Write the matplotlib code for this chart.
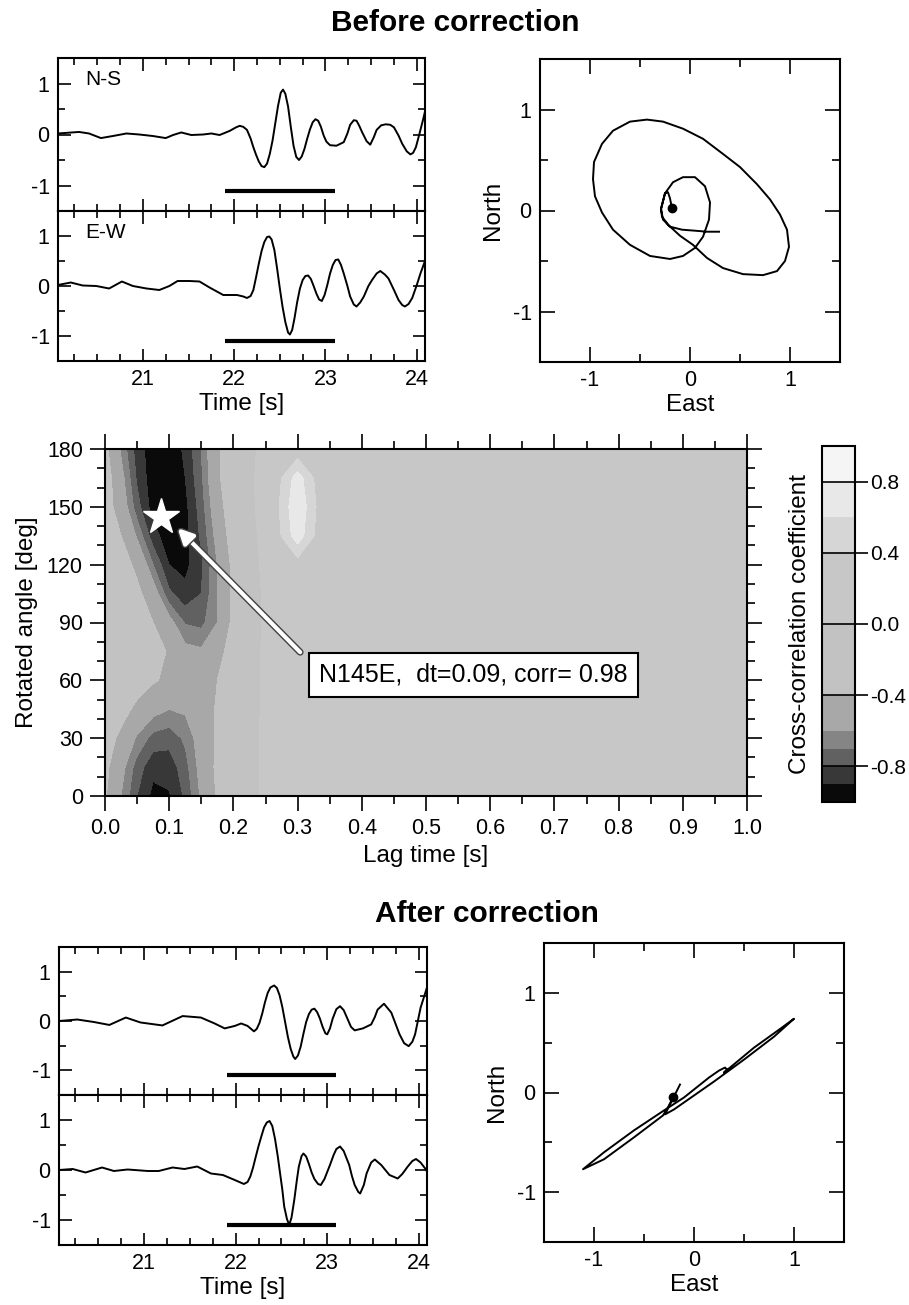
import numpy as np
import matplotlib
matplotlib.use('Agg')
import matplotlib.pyplot as plt
from matplotlib.colors import ListedColormap, BoundaryNorm
from matplotlib.ticker import MultipleLocator, FormatStrFormatter
import matplotlib.patheffects as pe

plt.rcParams['font.family'] = ['Liberation Sans', 'DejaVu Sans']
plt.rcParams['axes.unicode_minus'] = False

# ---------------- data ----------------
# Before correction: (time [s], amplitude)
ns_before = [(20.07, 0.02), (20.30, 0.05), (20.41, 0.02), (20.54, -0.07), (20.67, -0.03),
             (20.82, 0.02), (20.96, 0.0), (21.11, -0.03), (21.25, -0.07), (21.33, -0.01),
             (21.42, 0.04), (21.53, -0.01), (21.66, 0.0), (21.75, 0.02), (21.84, -0.01),
             (21.95, 0.07), (22.02, 0.14), (22.06, 0.17), (22.10, 0.15), (22.14, 0.09),
             (22.18, -0.08), (22.21, -0.25), (22.24, -0.40), (22.27, -0.53), (22.30, -0.62),
             (22.33, -0.64), (22.36, -0.57), (22.39, -0.38), (22.42, -0.12), (22.45, 0.22),
             (22.48, 0.56), (22.51, 0.82), (22.535, 0.88), (22.56, 0.80), (22.59, 0.55),
             (22.62, 0.15), (22.65, -0.22), (22.68, -0.44), (22.71, -0.50), (22.74, -0.43),
             (22.77, -0.28), (22.80, -0.08), (22.83, 0.10), (22.86, 0.24), (22.89, 0.30),
             (22.92, 0.27), (22.95, 0.15), (22.98, -0.02), (23.01, -0.14), (23.05, -0.21),
             (23.12, -0.22), (23.20, -0.15), (23.24, 0.02), (23.27, 0.19), (23.31, 0.28),
             (23.34, 0.27), (23.37, 0.17), (23.40, 0.05), (23.45, -0.13), (23.49, -0.20),
             (23.53, -0.05), (23.56, 0.09), (23.61, 0.18), (23.66, 0.20), (23.71, 0.19),
             (23.75, 0.14), (23.80, -0.02), (23.84, -0.18), (23.89, -0.33), (23.93, -0.39),
             (23.96, -0.36), (23.99, -0.25), (24.02, -0.05), (24.04, 0.09), (24.07, 0.30),
             (24.09, 0.45)]
ew_before = [(20.07, 0.02), (20.21, 0.07), (20.34, 0.01), (20.49, 0.0), (20.63, -0.05),
             (20.77, 0.09), (20.89, 0.0), (21.04, -0.05), (21.18, -0.08), (21.29, 0.0),
             (21.38, 0.10), (21.51, 0.10), (21.62, 0.09), (21.73, -0.03), (21.88, -0.18),
             (22.03, -0.18), (22.10, -0.21), (22.14, -0.24), (22.18, -0.20), (22.21, -0.08),
             (22.24, 0.18), (22.27, 0.45), (22.30, 0.70), (22.33, 0.88), (22.36, 0.98),
             (22.385, 0.99), (22.41, 0.93), (22.44, 0.72), (22.47, 0.35), (22.50, -0.05),
             (22.53, -0.42), (22.56, -0.72), (22.59, -0.93), (22.61, -0.97), (22.635, -0.88),
             (22.66, -0.65), (22.69, -0.32), (22.72, -0.05), (22.75, 0.12), (22.78, 0.20),
             (22.81, 0.21), (22.84, 0.14), (22.87, 0.0), (22.90, -0.15), (22.93, -0.27),
             (22.96, -0.30), (22.99, -0.18), (23.02, 0.02), (23.05, 0.25), (23.08, 0.42),
             (23.11, 0.52), (23.14, 0.53), (23.17, 0.42), (23.20, 0.25), (23.24, 0.0),
             (23.27, -0.21), (23.31, -0.37), (23.34, -0.41), (23.38, -0.33), (23.42, -0.21),
             (23.47, 0.0), (23.51, 0.12), (23.56, 0.25), (23.60, 0.30), (23.65, 0.23),
             (23.69, 0.15), (23.75, -0.08), (23.80, -0.28), (23.84, -0.38), (23.87, -0.41),
             (23.91, -0.36), (23.95, -0.24), (24.00, 0.02), (24.04, 0.25), (24.09, 0.50)]

# After correction
ns_after = [(20.07, 0.0), (20.27, 0.03), (20.45, -0.02), (20.62, -0.08), (20.80, 0.07),
            (20.96, -0.03), (21.20, -0.09), (21.42, 0.10), (21.62, 0.07), (21.77, -0.05),
            (21.88, -0.15), (21.99, -0.10), (22.06, -0.05), (22.13, -0.10), (22.20, -0.21),
            (22.23, -0.16), (22.26, -0.04), (22.29, 0.15), (22.32, 0.38), (22.35, 0.57),
            (22.38, 0.68), (22.42, 0.72), (22.45, 0.67), (22.48, 0.52), (22.51, 0.28),
            (22.54, -0.02), (22.57, -0.32), (22.60, -0.56), (22.63, -0.72), (22.65, -0.77),
            (22.68, -0.70), (22.71, -0.52), (22.74, -0.26), (22.77, -0.02), (22.80, 0.14),
            (22.83, 0.23), (22.86, 0.25), (22.89, 0.18), (22.92, 0.05), (22.95, -0.12),
            (22.98, -0.25), (23.00, -0.27), (23.03, -0.15), (23.06, 0.05), (23.10, 0.24),
            (23.14, 0.30), (23.18, 0.22), (23.22, 0.05), (23.26, -0.12), (23.30, -0.19),
            (23.39, -0.15), (23.48, -0.07), (23.52, 0.08), (23.55, 0.23), (23.62, 0.35),
            (23.70, 0.17), (23.79, -0.27), (23.84, -0.45), (23.89, -0.51), (23.93, -0.42),
            (23.96, -0.27), (24.02, 0.27), (24.09, 0.68)]
ew_after = [(20.07, 0.0), (20.22, 0.02), (20.36, -0.05), (20.54, 0.05), (20.67, -0.02),
            (20.82, 0.01), (21.04, -0.02), (21.16, -0.02), (21.31, 0.05), (21.44, 0.02),
            (21.58, 0.07), (21.73, -0.07), (21.86, -0.10), (21.99, -0.20), (22.09, -0.28),
            (22.13, -0.24), (22.16, -0.13), (22.19, 0.05), (22.22, 0.27), (22.25, 0.48),
            (22.28, 0.67), (22.31, 0.85), (22.34, 0.95), (22.37, 0.98), (22.40, 0.88),
            (22.43, 0.62), (22.46, 0.27), (22.48, 0.0), (22.51, -0.40), (22.53, -0.73),
            (22.56, -0.98), (22.585, -1.10), (22.61, -0.95), (22.64, -0.60), (22.67, -0.18),
            (22.69, 0.07), (22.72, 0.28), (22.74, 0.33), (22.77, 0.27), (22.80, 0.12),
            (22.83, -0.05), (22.86, -0.18), (22.90, -0.28), (22.93, -0.30), (22.97, -0.18),
            (23.03, 0.10), (23.07, 0.30), (23.10, 0.42), (23.14, 0.47), (23.18, 0.38),
            (23.24, 0.10), (23.27, -0.12), (23.30, -0.30), (23.34, -0.44), (23.36, -0.47),
            (23.40, -0.30), (23.43, -0.07), (23.48, 0.15), (23.52, 0.21), (23.59, 0.10),
            (23.68, -0.10), (23.77, -0.17), (23.82, -0.08), (23.88, 0.07), (23.93, 0.18),
            (23.97, 0.22), (24.02, 0.15), (24.07, 0.03), (24.09, -0.03)]

window = [21.9, 23.1]      # analysis window (black bar)
bar_level = -1.1

# Particle motion (East, North)
pm_before_e = [-0.18, -0.20, -0.22, -0.25, -0.27, -0.29, -0.28, -0.22, -0.10, 0.03, 0.17, 0.33,
               0.53, 0.73, 0.87, 0.95, 0.99, 0.97, 0.90, 0.80, 0.67, 0.50, 0.33, 0.13, -0.07,
               -0.27, -0.43, -0.60, -0.77, -0.88, -0.96, -0.97, -0.95, -0.88, -0.77, -0.60,
               -0.40, -0.20, -0.07, 0.05, 0.13, 0.19, 0.20, 0.15, 0.05, -0.07, -0.17, -0.25,
               -0.29, -0.27, -0.20, -0.08, 0.05, 0.17, 0.29]
pm_before_n = [0.02, 0.12, 0.18, 0.17, 0.09, 0.01, -0.06, -0.14, -0.25, -0.34, -0.47, -0.57,
               -0.63, -0.64, -0.60, -0.50, -0.36, -0.19, -0.04, 0.11, 0.26, 0.43, 0.56, 0.71,
               0.81, 0.88, 0.90, 0.88, 0.79, 0.66, 0.48, 0.31, 0.14, -0.02, -0.19, -0.34,
               -0.45, -0.48, -0.45, -0.37, -0.26, -0.09, 0.08, 0.24, 0.33, 0.33, 0.28, 0.17,
               0.02, -0.09, -0.16, -0.19, -0.20, -0.21, -0.21]
pm_after_e = [-0.21, -0.26, -0.31, -0.60, -0.90, -1.11, -0.90, -0.60, -0.30, -0.10, 0.05, 0.15,
              0.25, 0.31, 0.33, 0.30, 0.60, 0.85, 1.00, 0.80, 0.50, 0.20, 0.00, -0.20, -0.29,
              -0.21, -0.14]
pm_after_n = [-0.05, -0.15, -0.23, -0.45, -0.67, -0.77, -0.60, -0.38, -0.18, -0.05, 0.07, 0.15,
              0.22, 0.25, 0.23, 0.20, 0.45, 0.63, 0.74, 0.56, 0.33, 0.11, -0.03, -0.17, -0.22,
              -0.06, 0.08]

# Cross-correlation map
cc_lag = [0.0, 0.025, 0.05, 0.075, 0.1, 0.125, 0.15, 0.175, 0.2, 0.25, 0.3, 0.35, 0.4, 0.6, 0.8, 1.0]
cc_angle = [0, 15, 30, 45, 60, 75, 90, 105, 120, 135, 150, 165, 180]
cc_values = [
    [-0.38, -0.60, -0.80, -0.93, -0.91, -0.78, -0.58, -0.38, -0.22, 0.05, 0.10, 0.08, 0.06, 0.05, 0.06, 0.05],
    [-0.35, -0.55, -0.75, -0.87, -0.86, -0.74, -0.55, -0.36, -0.22, 0.05, 0.12, 0.08, 0.06, 0.05, 0.06, 0.05],
    [-0.30, -0.45, -0.62, -0.74, -0.76, -0.68, -0.53, -0.37, -0.22, 0.05, 0.14, 0.08, 0.06, 0.05, 0.06, 0.05],
    [-0.25, -0.32, -0.45, -0.55, -0.60, -0.58, -0.50, -0.38, -0.25, 0.05, 0.14, 0.08, 0.06, 0.05, 0.06, 0.05],
    [-0.20, -0.22, -0.30, -0.38, -0.44, -0.48, -0.48, -0.40, -0.28, 0.05, 0.14, 0.08, 0.06, 0.05, 0.06, 0.05],
    [-0.20, -0.20, -0.25, -0.32, -0.42, -0.56, -0.58, -0.48, -0.30, 0.05, 0.14, 0.08, 0.06, 0.05, 0.06, 0.05],
    [-0.20, -0.20, -0.28, -0.40, -0.55, -0.71, -0.73, -0.60, -0.35, 0.05, 0.14, 0.08, 0.06, 0.05, 0.06, 0.05],
    [-0.20, -0.25, -0.35, -0.52, -0.78, -0.87, -0.80, -0.60, -0.35, 0.05, 0.15, 0.08, 0.06, 0.05, 0.06, 0.05],
    [-0.20, -0.30, -0.45, -0.70, -0.90, -0.93, -0.82, -0.60, -0.35, 0.08, 0.30, 0.08, 0.06, 0.05, 0.06, 0.05],
    [-0.25, -0.40, -0.62, -0.86, -0.96, -0.94, -0.78, -0.55, -0.30, 0.10, 0.72, 0.10, 0.06, 0.05, 0.06, 0.05],
    [-0.30, -0.50, -0.76, -0.95, -0.99, -0.93, -0.75, -0.50, -0.25, 0.12, 0.78, 0.12, 0.08, 0.05, 0.06, 0.05],
    [-0.30, -0.55, -0.82, -0.96, -0.98, -0.90, -0.72, -0.45, -0.20, 0.10, 0.70, 0.10, 0.08, 0.05, 0.06, 0.05],
    [-0.35, -0.62, -0.85, -0.96, -0.97, -0.88, -0.70, -0.45, -0.20, 0.08, 0.25, 0.08, 0.06, 0.05, 0.06, 0.05],
]
cc_levels = [-1.0, -0.9, -0.8, -0.7, -0.6, -0.4, 0.0, 0.4, 0.6, 0.8, 1.0]
cc_grays = ['0.04', '0.22', '0.38', '0.52', '0.66', '0.76', '0.78', '0.84', '0.91', '0.96']
cb_ticks = [-0.8, -0.4, 0.0, 0.4, 0.8]
best_lag, best_angle, best_corr = 0.09, 145, 0.98

# ---------------- layout ----------------
W, H = 909, 1305
fig = plt.figure(figsize=(W / 100, H / 100), dpi=100)


def rect(x0, y0, x1, y1):
    return [x0 / W, 1 - y1 / H, (x1 - x0) / W, (y1 - y0) / H]


TICK_FS = 15.5
LABEL_FS = 17.5


def wave_axes(r, pairs, xlabels, label=None):
    ax = fig.add_axes(r)
    t = [p[0] for p in pairs]
    v = [p[1] for p in pairs]
    ax.plot(t, v, color='black', lw=1.4)
    ax.plot(window, [bar_level, bar_level], color='black', lw=3.0, solid_capstyle='butt')
    ax.set_xlim(20.07, 24.09)
    ax.set_ylim(-1.5, 1.5)
    ax.xaxis.set_major_locator(MultipleLocator(1))
    ax.xaxis.set_minor_locator(MultipleLocator(0.25))
    ax.yaxis.set_major_locator(MultipleLocator(1))
    ax.yaxis.set_minor_locator(MultipleLocator(0.5))
    ax.yaxis.set_major_formatter(FormatStrFormatter('%d'))
    ax.xaxis.set_major_formatter(FormatStrFormatter('%d'))
    ax.tick_params(which='both', direction='in', top=True, right=True, width=1.2,
                   labelsize=TICK_FS)
    ax.tick_params(which='major', length=9, pad=6)
    ax.tick_params(which='minor', length=5)
    if not xlabels:
        ax.tick_params(labelbottom=False)
    else:
        ax.set_xlabel('Time [s]', fontsize=LABEL_FS, labelpad=2)
    for s in ax.spines.values():
        s.set_linewidth(1.5)
    if label:
        ax.text(0.075, 0.86, label, transform=ax.transAxes, fontsize=15, va='center')
    return ax


def pm_axes(r, e, n):
    ax = fig.add_axes(r)
    ax.plot(e, n, color='black', lw=1.4)
    ax.plot(e[0], n[0], 'o', color='black', ms=6)
    ax.set_xlim(-1.5, 1.5)
    ax.set_ylim(-1.5, 1.5)
    for a in (ax.xaxis, ax.yaxis):
        a.set_major_locator(MultipleLocator(1))
        a.set_minor_locator(MultipleLocator(0.5))
        a.set_major_formatter(FormatStrFormatter('%d'))
    ax.tick_params(which='both', direction='in', top=True, right=True, width=1.2,
                   labelsize=TICK_FS)
    ax.tick_params(which='major', length=11, pad=6)
    ax.tick_params(which='minor', length=6)
    ax.set_xlabel('East', fontsize=LABEL_FS, labelpad=2)
    ax.set_ylabel('North', fontsize=LABEL_FS, labelpad=6)
    for s in ax.spines.values():
        s.set_linewidth(1.5)
    return ax


# Titles
fig.text(455 / W, 1 - 23 / H, 'Before correction', ha='center', va='center',
         fontsize=21.5, fontweight='bold')
fig.text(487 / W, 1 - 914 / H, 'After correction', ha='center', va='center',
         fontsize=21.5, fontweight='bold')

# Before correction
wave_axes(rect(58, 58, 425, 211), ns_before, False, 'N-S')
wave_axes(rect(58, 211, 425, 361), ew_before, True, 'E-W')
pm_axes(rect(540, 59, 840, 362), pm_before_e, pm_before_n)

# Cross-correlation map
ax = fig.add_axes(rect(105, 449, 747, 796))
cmap = ListedColormap(cc_grays)
norm = BoundaryNorm(cc_levels, ncolors=len(cc_grays))
cf = ax.contourf(cc_lag, cc_angle, cc_values, levels=cc_levels, cmap=cmap, norm=norm)
ax.set_xlim(0, 1)
ax.set_ylim(0, 180)
ax.xaxis.set_major_locator(MultipleLocator(0.1))
ax.xaxis.set_minor_locator(MultipleLocator(0.05))
ax.xaxis.set_major_formatter(FormatStrFormatter('%.1f'))
ax.yaxis.set_major_locator(MultipleLocator(30))
ax.yaxis.set_minor_locator(MultipleLocator(10))
ax.tick_params(which='both', direction='out', top=True, right=True, width=1.2,
               labelsize=TICK_FS)
ax.tick_params(which='major', length=11, pad=5)
ax.tick_params(which='minor', length=6)
ax.set_xlabel('Lag time [s]', fontsize=LABEL_FS, labelpad=4)
ax.set_ylabel('Rotated angle [deg]', fontsize=LABEL_FS, labelpad=6)
for s in ax.spines.values():
    s.set_linewidth(1.5)

# arrow + annotation
box_lag, box_angle = 0.574, 63
ax.annotate('', xy=(0.113, 139), xytext=(0.304, 74.6),
            arrowprops=dict(arrowstyle='-|>,head_length=0.9,head_width=0.45', color='white',
                            lw=3, shrinkA=0, shrinkB=0,
                            path_effects=[pe.Stroke(linewidth=5, foreground='0.25'), pe.Normal()]),
            zorder=4)
ax.plot(best_lag - 0.002, best_angle - 0.5, marker='*', color='white', ms=27, mec='white', zorder=5)
ax.text(box_lag, box_angle,
        f'N{best_angle}E,  dt={best_lag:.2f}, corr= {best_corr:.2f}',
        ha='center', va='center', fontsize=18, zorder=6,
        bbox=dict(boxstyle='square,pad=0.4', fc='white', ec='black', lw=1.5))

# colorbar
cax = fig.add_axes(rect(822, 446, 855, 802))
cb = fig.colorbar(cf, cax=cax, ticks=cb_ticks, spacing='proportional')
cb.outline.set_linewidth(1.5)
cax.yaxis.set_ticks_position('right')
cax.yaxis.set_major_formatter(FormatStrFormatter('%.1f'))
cax.tick_params(direction='out', length=9, width=1.2, labelsize=15, pad=2)
cax.minorticks_off()
for tv in cb_ticks:
    cax.axhline(tv, color='black', lw=1.2)
cax.yaxis.set_label_position('left')
cb.set_label('Cross-correlation coefficient', fontsize=LABEL_FS, labelpad=8)

# After correction
wave_axes(rect(59, 947, 427, 1095), ns_after, False)
wave_axes(rect(59, 1095, 427, 1245), ew_after, True)
pm_axes(rect(544, 943, 844, 1242), pm_after_e, pm_after_n)

fig.savefig('out.png', dpi=100)
